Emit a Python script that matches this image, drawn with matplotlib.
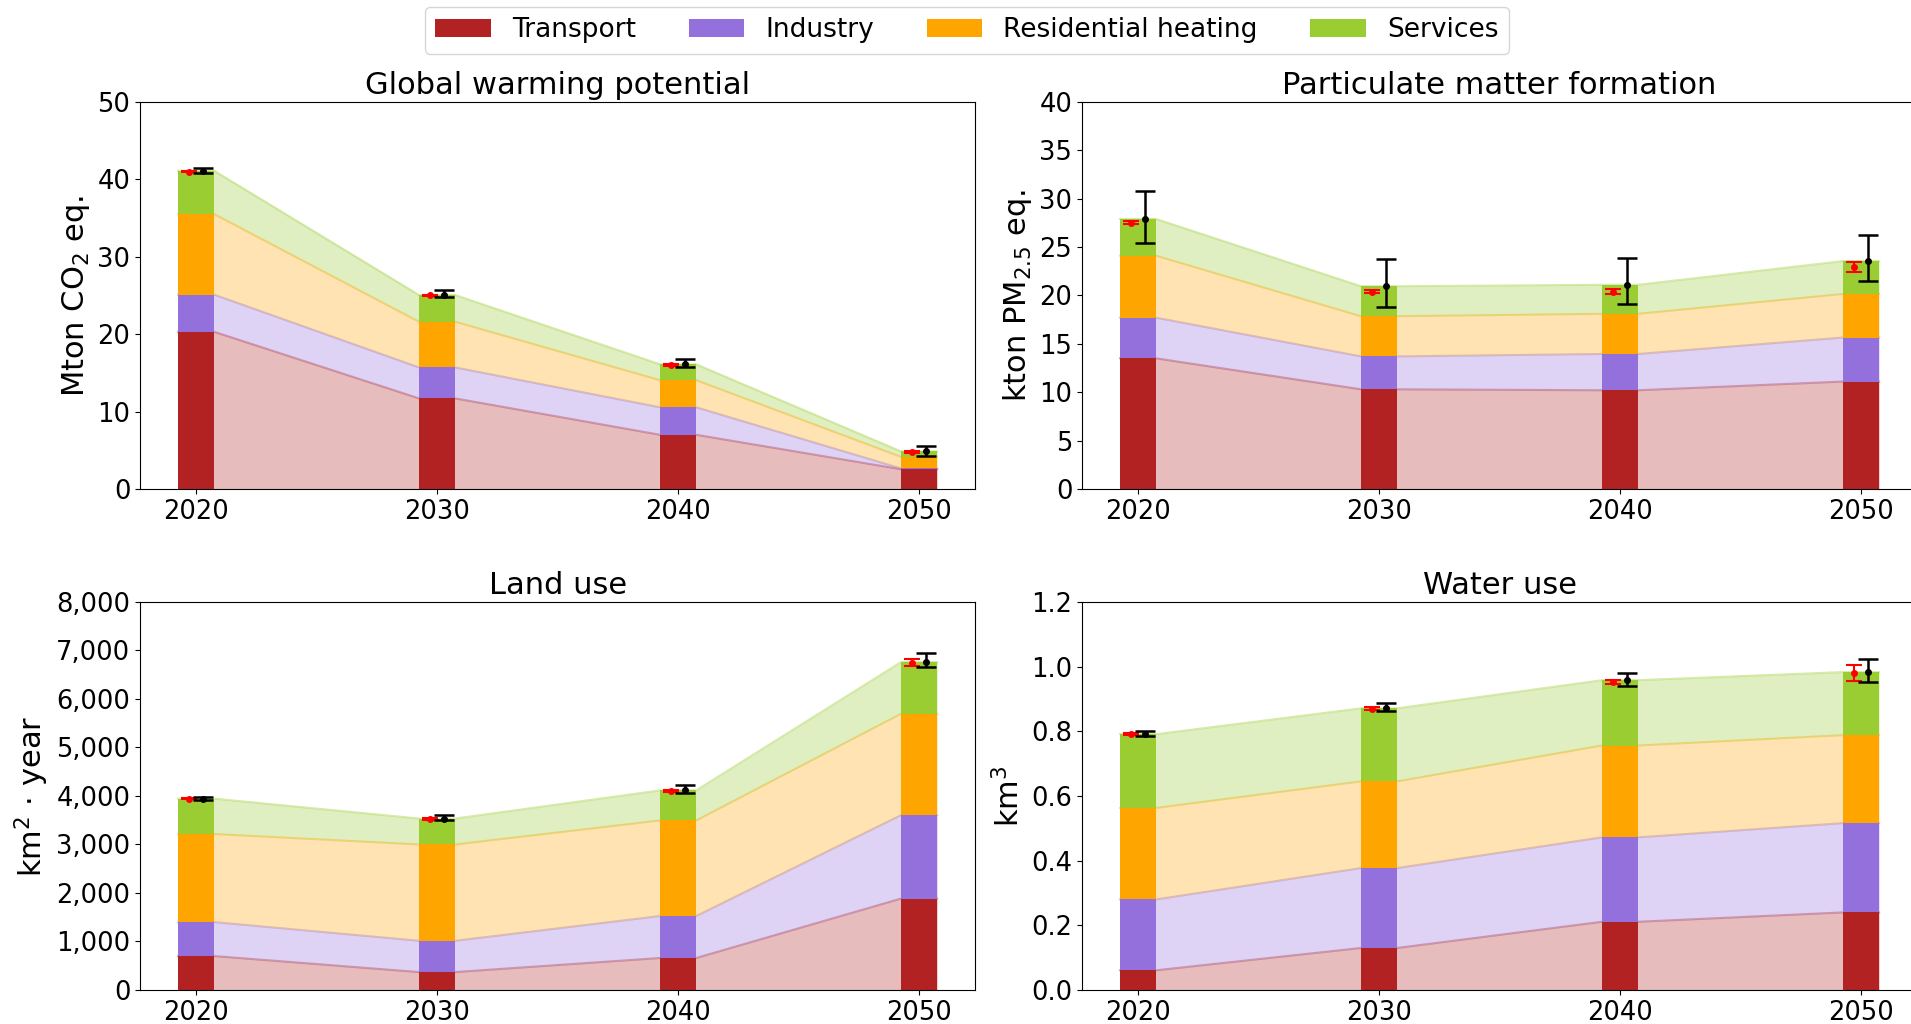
import matplotlib
matplotlib.use("Agg")
import matplotlib.pyplot as plt
import numpy as np
from matplotlib.ticker import StrMethodFormatter

years = np.array([2020, 2030, 2040, 2050])
sectors = ["Transport", "Industry", "Residential heating", "Services"]
colors = ["firebrick", "mediumpurple", "orange", "yellowgreen"]

# global warming potential, Mton CO2 eq.
gwp_transport = [20.3, 11.7, 7.0, 2.55]
gwp_industry = [4.8, 4.0, 3.55, 0.1]
gwp_heating = [10.4, 5.9, 3.5, 1.5]
gwp_services = [5.6, 3.45, 2.05, 0.7]
gwp_err_low = [0.3, 0.3, 0.35, 0.55]
gwp_err_high = [0.37, 0.7, 0.7, 0.75]
gwp_ref = [41.0, 25.0, 16.0, 4.75]
gwp_ref_err = [0.1, 0.1, 0.12, 0.12]

# particulate matter formation, kton PM2.5 eq.
pm_transport = [13.5, 10.3, 10.2, 11.1]
pm_industry = [4.2, 3.4, 3.75, 4.55]
pm_heating = [6.4, 4.15, 4.15, 4.5]
pm_services = [3.8, 3.1, 3.0, 3.4]
pm_err_low = [2.5, 2.1, 2.0, 2.05]
pm_err_high = [2.9, 2.8, 2.8, 2.65]
pm_ref = [27.5, 20.4, 20.4, 22.95]
pm_ref_err = [0.15, 0.15, 0.3, 0.55]

# land use, km2 * year
land_transport = [700, 370, 660, 1885]
land_industry = [700, 645, 865, 1720]
land_heating = [1815, 1985, 1970, 2090]
land_services = [730, 535, 620, 1065]
land_err_low = [30, 35, 45, 110]
land_err_high = [35, 70, 115, 180]
land_ref = [3945, 3530, 4100, 6750]
land_ref_err = [15, 20, 25, 70]

# water use, km3
water_transport = [0.061, 0.13, 0.211, 0.240]
water_industry = [0.219, 0.247, 0.261, 0.276]
water_heating = [0.283, 0.268, 0.284, 0.272]
water_services = [0.228, 0.226, 0.202, 0.195]
water_err_low = [0.005, 0.008, 0.017, 0.032]
water_err_high = [0.009, 0.015, 0.021, 0.041]
water_ref = [0.791, 0.870, 0.953, 0.981]
water_ref_err = [0.004, 0.004, 0.006, 0.025]

panels = [
    ("Global warming potential", "Mton CO$_2$ eq.",
     [gwp_transport, gwp_industry, gwp_heating, gwp_services],
     gwp_err_low, gwp_err_high, gwp_ref, gwp_ref_err,
     np.arange(0, 51, 10), "{x:.0f}"),
    ("Particulate matter formation", "kton PM$_{2.5}$ eq.",
     [pm_transport, pm_industry, pm_heating, pm_services],
     pm_err_low, pm_err_high, pm_ref, pm_ref_err,
     np.arange(0, 41, 5), "{x:.0f}"),
    ("Land use", "km$^2$ $\\cdot$ year",
     [land_transport, land_industry, land_heating, land_services],
     land_err_low, land_err_high, land_ref, land_ref_err,
     np.arange(0, 8001, 1000), "{x:,.0f}"),
    ("Water use", "km$^3$",
     [water_transport, water_industry, water_heating, water_services],
     water_err_low, water_err_high, water_ref, water_ref_err,
     np.arange(0, 1.21, 0.2), "{x:.1f}"),
]

positions = [
    [0.0733, 0.5225, 0.437, 0.378],
    [0.5662, 0.5225, 0.437, 0.378],
    [0.0733, 0.0332, 0.437, 0.379],
    [0.5662, 0.0332, 0.437, 0.379],
]

width = 1.5
fig = plt.figure(figsize=(19.11, 10.24), dpi=100)

handles = []
for (title, ylabel, stacks, elo, ehi, ref, referr, yticks, fmt), pos in zip(panels, positions):
    ax = fig.add_axes(pos)
    bottom = np.zeros(len(years))
    # x points at both edges of every bar so the bands meet the bar tops
    xs = np.ravel(np.column_stack([years - width / 2, years + width / 2]))
    bars = []
    for vals, c, name in zip(stacks, colors, sectors):
        vals = np.array(vals, dtype=float)
        top = bottom + vals
        ax.fill_between(xs, np.repeat(bottom, 2), np.repeat(top, 2),
                        color=c, alpha=0.3, linewidth=0, zorder=1)
        ax.plot(xs, np.repeat(top, 2), color=c, alpha=0.4, lw=1.5, zorder=1)
        b = ax.bar(years, vals, width, bottom=bottom, color=c, label=name, zorder=2)
        bars.append(b)
        bottom = top
    total = bottom
    ax.errorbar(years - 0.3, ref, yerr=referr, fmt="o", color="red",
                markersize=4, capsize=6, elinewidth=1.5, capthick=1.5, zorder=4)
    ax.errorbar(years + 0.3, total, yerr=[elo, ehi], fmt="o", color="black",
                markersize=4, capsize=7, elinewidth=1.8, capthick=1.8, zorder=5)
    ax.set_title(title, fontsize=22)
    ax.set_ylabel(ylabel, fontsize=22)
    ax.set_xticks(years)
    ax.set_yticks(yticks)
    ax.set_ylim(yticks[0], yticks[-1])
    ax.yaxis.set_major_formatter(StrMethodFormatter(fmt))
    ax.tick_params(labelsize=18.5)
    if not handles:
        handles = bars

fig.legend(handles, sectors, loc="upper center", bbox_to_anchor=(0.506, 1.0),
           ncol=4, fontsize=19, handlelength=2.1, columnspacing=2.0,
           borderaxespad=0.25)

fig.savefig("out.png", dpi=100)
